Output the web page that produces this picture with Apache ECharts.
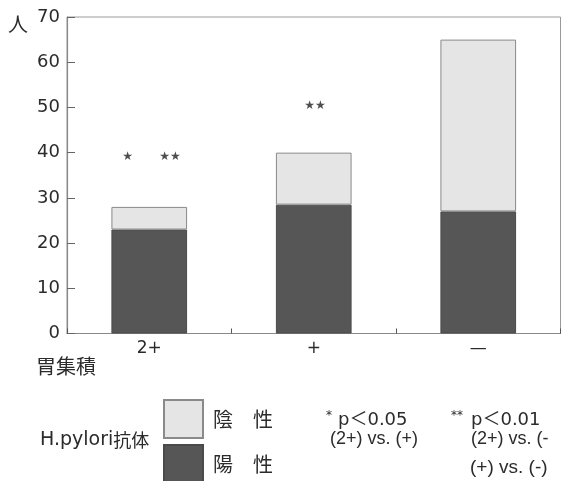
<!DOCTYPE html>
<html>
<head>
<meta charset="utf-8">
<script src="https://cdn.jsdelivr.net/npm/echarts@6/dist/echarts.min.js"></script>
<style>
  html, body { margin: 0; padding: 0; background: #fff; }
  #chart { width: 562px; height: 481px; }
</style>
</head>
<body>
<div id="chart"></div>
<script>
// ---- data ----
const categories = ['2+', '+', '—'];
const positive = [23, 28.5, 27];     // 陽 性 (dark)
const negative = [5, 11.5, 38];      // 陰 性 (light)
const yTicks = { min: 0, max: 70, interval: 10 };
// significance marks (x in category units, y in persons)
const sigX = [0.369, 0.626, 1.508];
const sigY = [39.1, 39.1, 50.3];
const sigLabel = ['★', '★★', '★★'];

const CJK = 'Noto Sans CJK JP';
const LAT = 'DejaVu Sans';
const LIB = 'Liberation Sans';
const TXT = '#2b2b2b';

const chart = echarts.init(document.getElementById('chart'), null, { renderer: 'canvas' });

const option = {
  animation: false,
  grid: {
    left: 67, right: 1.5, top: 17, bottom: 147.5,
    show: true, borderColor: '#9a9a9a', borderWidth: 1, containLabel: false
  },
  legend: {
    data: ['陰　性', '陽　性'],
    orient: 'vertical',
    left: 163, top: 399,
    height: 160,
    padding: 0,
    itemWidth: 39, itemHeight: 38, itemGap: 5,
    icon: 'rect',
    textStyle: { fontSize: 20, fontFamily: CJK, color: TXT, padding: [0, 0, 0, 5] },
    selectedMode: false
  },
  xAxis: [{
    type: 'category',
    data: categories,
    axisLine: { lineStyle: { color: '#8a8a8a', width: 1.2 } },
    axisTick: { show: true, inside: true, length: 5, lineStyle: { color: '#555' } },
    axisLabel: { fontSize: 17, fontFamily: LAT, color: TXT, margin: 7 },
    splitLine: { show: false }
  }, {
    type: 'value', min: 0, max: 3, show: false, gridIndex: 0
  }],
  yAxis: {
    type: 'value',
    min: yTicks.min, max: yTicks.max, interval: yTicks.interval,
    axisLine: { show: true, lineStyle: { color: '#8a8a8a', width: 1.2 } },
    axisTick: { show: true, inside: true, length: 8, lineStyle: { color: '#666' } },
    axisLabel: { fontSize: 18, fontFamily: LAT, color: TXT, margin: 7 },
    splitLine: { show: false }
  },
  series: [{
    name: '陽　性',
    type: 'bar',
    stack: 'total',
    barWidth: '46%',
    data: positive,
    itemStyle: { color: '#565656', borderColor: '#4a4a4a', borderWidth: 1 }
  }, {
    name: '陰　性',
    type: 'bar',
    stack: 'total',
    barWidth: '46%',
    data: negative,
    itemStyle: { color: '#e5e5e5', borderColor: '#8a8a8a', borderWidth: 1 }
  }, {
    name: 'sig',
    type: 'scatter',
    xAxisIndex: 1,
    yAxisIndex: 0,
    symbolSize: 0,
    data: sigX.map((x, i) => [x, sigY[i]]),
    label: {
      show: true, position: 'inside',
      formatter: p => sigLabel[p.dataIndex],
      fontSize: 12, fontFamily: LAT, color: '#222'
    },
    silent: true
  }],
  graphic: [
    { type: 'text', x: 18, y: 24, style: { text: '人', fontSize: 20, fontFamily: CJK, fill: TXT, align: 'center', verticalAlign: 'middle' } },
    { type: 'text', x: 66, y: 366, style: { text: '胃集積', fontSize: 20, fontFamily: CJK, fill: TXT, align: 'center', verticalAlign: 'middle' } },
    { type: 'text', x: 40, y: 440, style: {
        text: '{a|H.pylori}{b|抗体}', align: 'left', verticalAlign: 'middle',
        rich: {
          a: { fontSize: 19, fontFamily: LAT, fill: TXT, color: TXT },
          b: { fontSize: 18, fontFamily: CJK, fill: TXT, color: TXT }
        }
    } },
    { type: 'text', x: 326, y: 416, style: { text: '*', fontSize: 12, fontFamily: LAT, fill: TXT, align: 'left', verticalAlign: 'middle' } },
    { type: 'text', x: 338, y: 420, style: { text: 'p＜0.05', fontSize: 18, fontFamily: LAT + ', ' + CJK, fill: TXT, align: 'left', verticalAlign: 'middle' } },
    { type: 'text', x: 330, y: 439, style: { text: '(2+) vs. (+)', fontSize: 18, fontFamily: LIB, fill: TXT, align: 'left', verticalAlign: 'middle' } },
    { type: 'text', x: 451, y: 416, style: { text: '**', fontSize: 12, fontFamily: LAT, fill: TXT, align: 'left', verticalAlign: 'middle' } },
    { type: 'text', x: 471, y: 420, style: { text: 'p＜0.01', fontSize: 18, fontFamily: LAT + ', ' + CJK, fill: TXT, align: 'left', verticalAlign: 'middle' } },
    { type: 'text', x: 471, y: 439, style: { text: '(2+) vs. (-', fontSize: 18, fontFamily: LIB, fill: TXT, align: 'left', verticalAlign: 'middle' } },
    { type: 'text', x: 470, y: 467.5, style: { text: '(+) vs. (-)', fontSize: 19, fontFamily: LIB, fill: TXT, align: 'left', verticalAlign: 'middle' } }
  ]
};

chart.setOption(option);
</script>
</body>
</html>
